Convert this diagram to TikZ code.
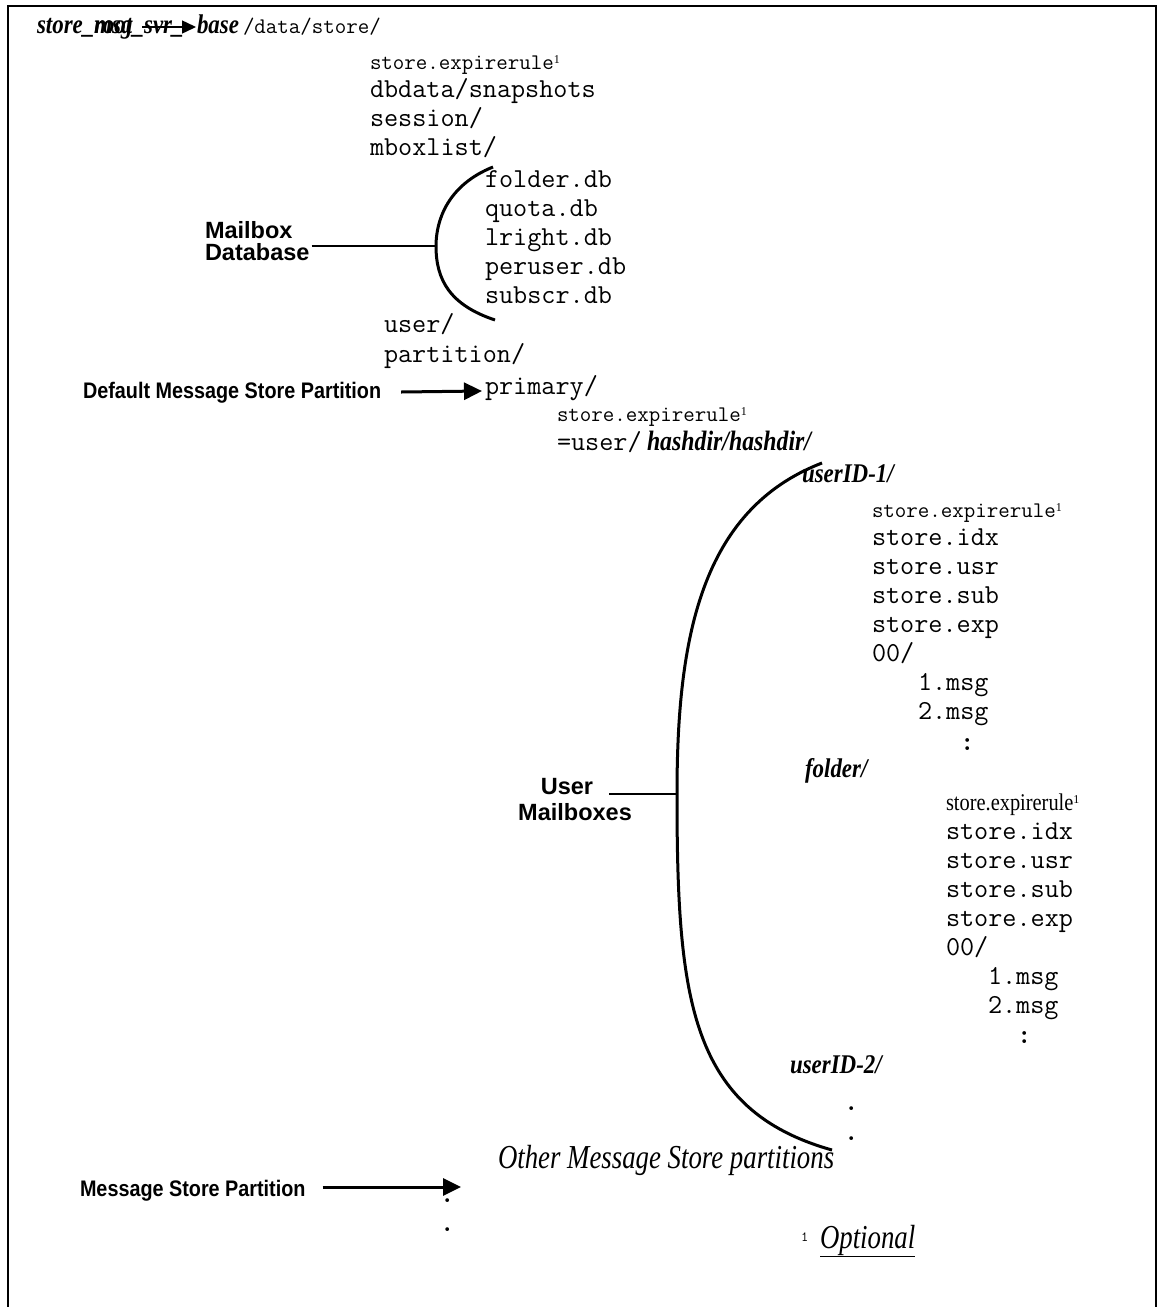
\documentclass[tikz,border=0pt]{standalone}
\usepackage{fontspec}
\setmainfont{Liberation Serif}
\newfontfamily\condserif[FakeStretch=0.85]{Liberation Serif}
\newfontfamily\narrowserif[FakeStretch=0.8]{Liberation Serif}
\newfontfamily\labelsans{Liberation Sans}
\newfontfamily\narrowsans[FakeStretch=0.88]{Liberation Sans}
\usetikzlibrary{arrows.meta,calc}
% footnote marker raised after a file name
\newcommand\fnmark{\raisebox{0.6ex}{\fontsize{12}{12}\selectfont\rmfamily 1}}

\begin{document}
\begin{tikzpicture}[x=1pt,y=-1pt,
  txt/.style={inner sep=0pt,outer sep=0pt,anchor=base west},
  mono/.style={txt,font=\ttfamily\fontsize{27.4}{29}\selectfont},
  smono/.style={txt,font=\ttfamily\fontsize{22.3}{24}\selectfont},
  bital/.style={txt,font=\condserif\bfseries\itshape\fontsize{27}{30}\selectfont},
  bigital/.style={txt,font=\narrowserif\itshape\fontsize{33.5}{36}\selectfont},
  lbl/.style={txt,font=\labelsans\bfseries\fontsize{23.5}{26}\selectfont},
  nlbl/.style={txt,font=\narrowsans\bfseries\fontsize{22.5}{25}\selectfont},
  brace/.style={line width=3pt},
  thinline/.style={line width=1.6pt},
  tickline/.style={line width=2.6pt},
  pointer/.style={line width=3pt,-{Triangle[length=18pt,width=17pt]}},
  dotmark/.style={txt,font=\ttfamily\bfseries\fontsize{27.4}{29}\selectfont}]
\useasboundingbox (0,0) rectangle (1158,1307);

% open frame
\draw[line width=2.8pt] (8,1307) -- (8,6) -- (1156,6) -- (1156,1307);

% root path (overprinted name)
\node[bital] (hdr) at (37,33) {store\_msg\_svr\_};
\node[bital] (hdrroot) at (94,33) {root};
\node[bital] (hdrbase) at (197,33) {base};
\node[smono] (hdrpath) at (243,33) {/data/store/};
\coordinate (hdrA) at (142,27);
\coordinate (hdrB) at (196,27);
\draw[line width=1.5pt,-{Triangle[length=14pt,width=13pt]}] (hdrA) -- (hdrB);

% store level
\node[smono] (lvA-1) at (370,69) {store.expirerule\fnmark};
\foreach \t [count=\i from 2] in {{dbdata/snapshots},{session/},{mboxlist/}}
  \node[mono] (lvA-\i) at (370,{69+28.8*(\i-1)}) {\t};

% mailbox database files
\foreach \t [count=\i] in {folder.db,quota.db,lright.db,peruser.db,subscr.db}
  \node[mono] (mdb-\i) at (485,{187+29*(\i-1)}) {\t};

\node[mono] (user) at (384,332) {user/};
\node[mono] (partition) at (384,362) {partition/};
\node[mono] (primary) at (485,394) {primary/};
\node[smono] (pexp) at (557,421) {store.expirerule\fnmark};
\node[mono] (equser) at (557,450) {=user/};
\node[bital,font=\condserif\bfseries\itshape\fontsize{28}{30}\selectfont] (hashdir) at (647,450) {hashdir/hashdir/};

% first user mailbox
\node[bital] (uid1) at (802,482) {userID-1/};
\node[smono] (ua-1) at (872,517) {store.expirerule\fnmark};
\foreach \t [count=\i from 2] in {store.idx,store.usr,store.sub,store.exp,00/}
  \node[mono] (ua-\i) at (872,{517+28.9*(\i-1)}) {\t};
\node[mono] (ua-m1) at (918,690) {1.msg};
\node[mono] (ua-m2) at (918,719) {2.msg};
\node[dotmark] (ua-more) at (960,750) {:};

% folder inside the mailbox
\node[bital] (fold) at (805,777) {folder/};
\node[txt,font=\condserif\fontsize{24}{26}\selectfont] (fa-1) at (946,810) {store.expirerule\fnmark};
\foreach \t [count=\i from 2] in {store.idx,store.usr,store.sub,store.exp,00/}
  \node[mono] (fa-\i) at (946,{839+29*(\i-2)}) {\t};
\node[mono] (fa-m1) at (988,984) {1.msg};
\node[mono] (fa-m2) at (988,1013) {2.msg};
\node[dotmark] (fa-more) at (1017,1043) {:};

% second user mailbox
\node[bital] (uid2) at (790,1073) {userID-2/};
\node[dotmark] (ud1) at (844,1110) {.};
\node[dotmark] (ud2) at (844,1140) {.};

\node[bigital] (other) at (498,1168) {Other Message Store partitions};
\node[dotmark] (pd1) at (440,1202) {.};
\node[dotmark] (pd2) at (440,1231) {.};

% footnote
\node[txt,font=\ttfamily\fontsize{14}{15}\selectfont] (fnnum) at (801,1241) {1};
\node[bigital] (optional) at (820,1248) {\underline{Optional}};

% braces
\coordinate (b1) at (436,246);
\draw[brace] (493,167) .. controls (448,185) and (436,220) .. (b1)
             .. controls (436,280) and (450,305) .. (495,320);
\coordinate (b2) at (677,794);
\draw[brace] (822,463) .. controls (700,510) and (677,640) .. (b2)
             .. controls (677,1000) and (690,1110) .. (832,1150);

% labels and connectors
\node[lbl] (mbA) at (205,238) {Mailbox};
\node[lbl] (mbB) at (205,260) {Database};
\draw[thinline] (mbB.base east) ++(2,-14) -- (b1);

\node[lbl,anchor=base] (umA) at (567,794) {User};
\node[lbl,anchor=base] (umB) at (575,820) {Mailboxes};
\draw[tickline] (umA.base east) ++(16,0) -- (b2);

\node[nlbl] (dmsp) at (83,398) {Default Message Store Partition};
\draw[pointer] (dmsp.base east) ++(20,-6) -- ($(primary.base west)+(-3,-3)$);

\node[nlbl] (msp) at (80,1196) {Message Store Partition};
\coordinate (msptip) at (461,1187);
\draw[pointer] (msp.base east) ++(17,-9) -- (msptip);
\end{tikzpicture}
\end{document}
